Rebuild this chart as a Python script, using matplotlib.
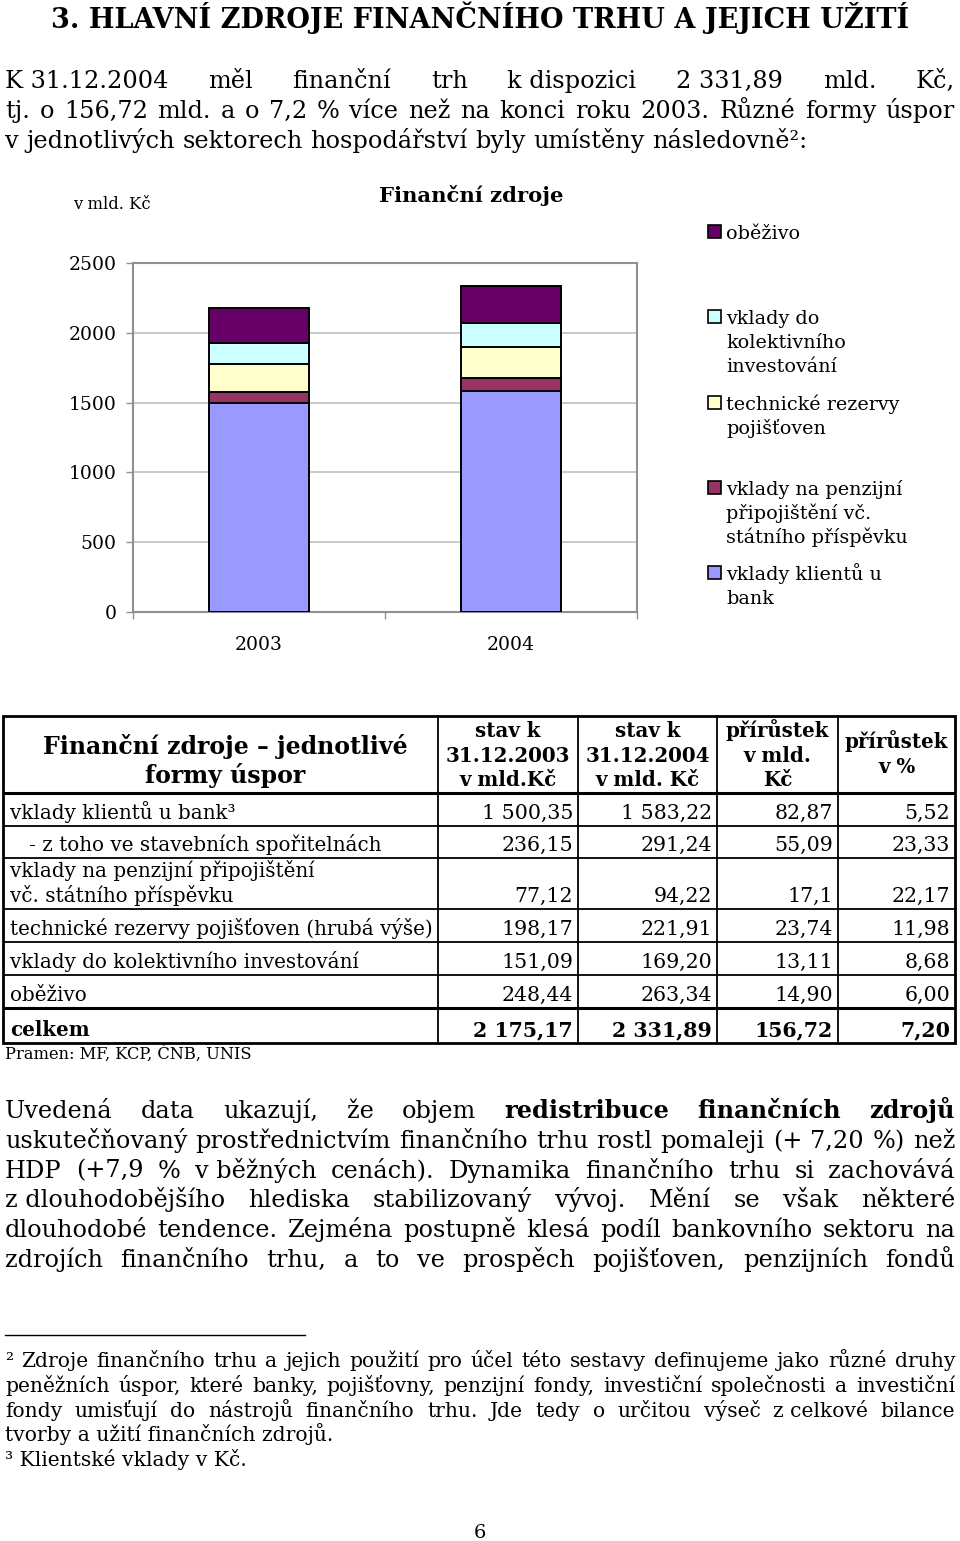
import matplotlib
matplotlib.use("Agg")
import matplotlib.pyplot as plt
from matplotlib.patches import Rectangle

SERIF = "DejaVu Serif"
plt.rcParams['font.family'] = [SERIF]

# chart data (v mld. Kč)
years = ["2003", "2004"]
vklady_bank = [1500.35, 1583.22]
penzijni = [77.12, 94.22]
rezervy = [198.17, 221.91]
kolektivni = [151.09, 169.20]
obezivo = [248.44, 263.34]
y_ticks = [0, 500, 1000, 1500, 2000, 2500]

series_names = ["vklady klientů u bank",
                "vklady na penzijní připojištění vč. státního příspěvku",
                "technické rezervy pojišťoven",
                "vklady do kolektivního investování",
                "oběživo"]
series_colors = ["#9999ff", "#993366", "#ffffcc", "#ccffff", "#660066"]

# legend text as broken in the original (top to bottom)
legend_lines = [["oběživo"],
                ["vklady do", "kolektivního", "investování"],
                ["technické rezervy", "pojišťoven"],
                ["vklady na penzijní", "připojištění vč.", "státního příspěvku"],
                ["vklady klientů u", "bank"]]
legend_colors = ["#660066", "#ccffff", "#ffffcc", "#993366", "#9999ff"]

# table
tab_head = ["stav k\n31.12.2003\nv mld.Kč", "stav k\n31.12.2004\nv mld. Kč",
            "přírůstek\nv mld.\nKč", "přírůstek\nv %"]
tab_rows = ["vklady klientů u bank³",
            "   - z toho ve stavebních spořitelnách",
            "vklady na penzijní připojištění\nvč. státního příspěvku",
            "technické rezervy pojišťoven (hrubá výše)",
            "vklady do kolektivního investování",
            "oběživo",
            "celkem"]
stav_2003 = ["1 500,35", "236,15", "77,12", "198,17", "151,09", "248,44", "2 175,17"]
stav_2004 = ["1 583,22", "291,24", "94,22", "221,91", "169,20", "263,34", "2 331,89"]
prir_mld = ["82,87", "55,09", "17,1", "23,74", "13,11", "14,90", "156,72"]
prir_pct = ["5,52", "23,33", "22,17", "11,98", "8,68", "6,00", "7,20"]

W, H = 960, 1541
BODY = 17.3
FOOT = 14.6
TAB = 14.3
NUM = 14.8

fig = plt.figure(figsize=(W / 100, H / 100), dpi=100)
page = fig.add_axes([0, 0, 1, 1])
page.set_xlim(0, W)
page.set_ylim(H, 0)
page.axis("off")
renderer = fig.canvas.get_renderer()


def line(words, y, x0=5, x1=955, fs=BODY, justify=True):
    # words: list of (text, bold) - spread across the column like justified text
    ts = [page.text(x0, y, w, fontsize=fs, fontweight="bold" if b else "normal",
                    va="baseline", ha="left") for w, b in words]
    ws = [t.get_window_extent(renderer).width for t in ts]
    if justify and len(ts) > 1:
        gap = (x1 - x0 - sum(ws)) / (len(ts) - 1)
    else:
        gap = fs * 0.32 * 100 / 72
    x = x0
    for t, w in zip(ts, ws):
        t.set_x(x)
        x += w + gap


def plain(s, bold_words=()):
    # "~" = space that should not stretch
    return [(w.replace("~", " "), w in bold_words) for w in s.split(" ")]


# heading
page.text(480, 28, "3. HLAVNÍ ZDROJE FINANČNÍHO TRHU A JEJICH UŽITÍ",
          fontsize=19.5, fontweight="bold", ha="center", va="baseline")

# first paragraph
line(plain("K~31.12.2004 měl finanční trh k~dispozici 2~331,89 mld. Kč,"), 88)
line(plain("tj. o 156,72 mld. a o 7,2 % více než na konci roku 2003. Různé formy úspor"), 118)
line(plain("v jednotlivých sektorech hospodářství byly umístěny následovně²:"), 148, justify=False)

# ---- chart ----
ax = fig.add_axes([133 / W, 1 - 612 / H, 504 / W, 349 / H], zorder=3)
stack = [vklady_bank, penzijni, rezervy, kolektivni, obezivo]
bottom = [0, 0]
xs = range(len(years))
for vals, name, col in zip(stack, series_names, series_colors):
    ax.bar(xs, vals, width=0.4, bottom=bottom, color=col, edgecolor="black",
           linewidth=1.4, label=name, zorder=3)
    bottom = [b + v for b, v in zip(bottom, vals)]
ax.set_xlim(-0.5, 1.5)
ax.set_ylim(0, 2500)
ax.set_yticks(y_ticks)
ax.set_xticks(list(xs))
ax.set_xticklabels(years)
ax.set_xticks([-0.5, 0.5, 1.5], minor=True)
ax.tick_params(axis="x", which="major", length=0, pad=17, labelsize=13.5)
ax.tick_params(axis="x", which="minor", length=5, color="#909090", width=1)
ax.tick_params(axis="y", length=5, color="#909090", width=1, pad=7, labelsize=13.5)
ax.grid(axis="y", color="#c0c0c0", linewidth=1.2, zorder=0)
for sp in ax.spines.values():
    sp.set_color("#909090")
    sp.set_linewidth(1.5)

page.text(73, 209, "v mld. Kč", fontsize=11.8, va="baseline")
page.text(471, 202, "Finanční zdroje", fontsize=15.2, fontweight="bold",
          ha="center", va="baseline")

leg_y = [232, 317, 403, 488, 573]
for yy, lines_, col in zip(leg_y, legend_lines, legend_colors):
    page.add_patch(Rectangle((708, yy - 7), 13, 13, facecolor=col,
                             edgecolor="black", linewidth=1.2))
    for k, s in enumerate(lines_):
        page.text(726, yy + 7 + 24 * k, s, fontsize=13.8, va="baseline")

# ---- table ----
cols = [3, 438, 578, 717, 838, 955]
rows = [716, 793, 826, 858, 909, 942, 975, 1008, 1043]
for r in rows[1:-1]:
    page.plot([cols[0], cols[-1]], [r, r], color="black",
              lw=2.2 if r in (793, 1008) else 1.3, solid_capstyle="butt")
for c in cols[1:-1]:
    page.plot([c, c], [rows[0], rows[-1]], color="black", lw=1.3)
page.add_patch(Rectangle((cols[0], rows[0]), cols[-1] - cols[0], rows[-1] - rows[0],
                         fill=False, edgecolor="black", linewidth=2.0))

page.text(225, 754, "Finanční zdroje – jednotlivé", fontsize=17, fontweight="bold",
          ha="center", va="baseline")
page.text(225, 783, "formy úspor", fontsize=17, fontweight="bold",
          ha="center", va="baseline")
for k, head in enumerate(tab_head):
    cx = (cols[k + 1] + cols[k + 2]) / 2
    hl = head.split("\n")
    y0 = 737 if len(hl) == 3 else 748
    for j, s in enumerate(hl):
        page.text(cx, y0 + 24.5 * j, s, fontsize=14.3, fontweight="bold",
                  ha="center", va="baseline")

for i, lab in enumerate(tab_rows):
    bot = rows[i + 2] - 7
    wt = "bold" if lab == "celkem" else "normal"
    ll = lab.split("\n")
    for j, s in enumerate(ll):
        page.text(10, bot - 25 * (len(ll) - 1 - j), s, fontsize=TAB, fontweight=wt,
                  va="baseline")
    for k, col in enumerate([stav_2003, stav_2004, prir_mld, prir_pct]):
        page.text(cols[k + 2] - 5, bot, col[i], fontsize=NUM, fontweight=wt,
                  ha="right", va="baseline")

page.text(5, 1059, "Pramen: MF, KCP, ČNB, UNIS", fontsize=11.7, va="baseline")

# second paragraph
B = ("redistribuce", "finančních", "zdrojů")
p2 = ["Uvedená data ukazují, že objem redistribuce finančních zdrojů",
      "uskutečňovaný prostřednictvím finančního trhu rostl pomaleji (+ 7,20 %) než",
      "HDP (+7,9 % v~běžných cenách). Dynamika finančního trhu si zachovává",
      "z~dlouhodobějšího hlediska stabilizovaný vývoj. Mění se však některé",
      "dlouhodobé tendence. Zejména postupně klesá podíl bankovního sektoru na",
      "zdrojích finančního trhu, a to ve prospěch pojišťoven, penzijních fondů"]
for k, s in enumerate(p2):
    line(plain(s, B if k == 0 else ()), 1118 + 29.8 * k)

# footnotes
page.plot([5, 305], [1335, 1335], color="black", lw=1)
fn = ["² Zdroje finančního trhu a jejich použití pro účel této sestavy definujeme jako různé druhy",
      "peněžních úspor, které banky, pojišťovny, penzijní fondy, investiční společnosti a investiční",
      "fondy umisťují do nástrojů finančního trhu. Jde tedy o určitou výseč z~celkové bilance"]
for k, s in enumerate(fn):
    line(plain(s), 1367 + 24.8 * k, fs=FOOT)
page.text(5, 1441, "tvorby a užití finančních zdrojů.", fontsize=FOOT, va="baseline")
page.text(5, 1466, "³ Klientské vklady v Kč.", fontsize=FOOT, va="baseline")
page.text(480, 1538, "6", fontsize=14, ha="center", va="baseline")

fig.savefig("out.png", dpi=100)
